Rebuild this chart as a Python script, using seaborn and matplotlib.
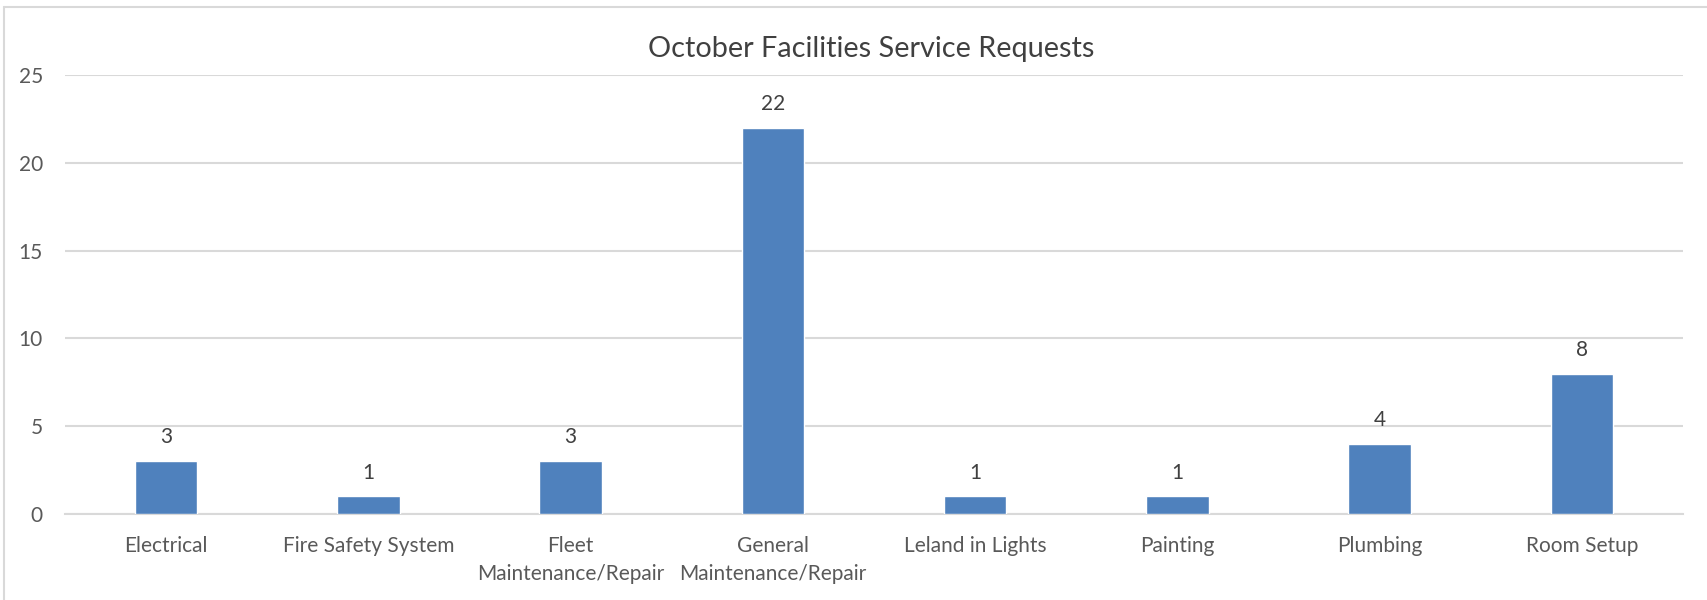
import matplotlib
matplotlib.use("Agg")
import matplotlib.pyplot as plt
import seaborn as sns
import pandas as pd
from matplotlib.lines import Line2D

categories = ["Electrical", "Fire Safety System", "Fleet\nMaintenance/Repair",
              "General\nMaintenance/Repair", "Leland in Lights", "Painting",
              "Plumbing", "Room Setup"]
requests = [3, 1, 3, 22, 1, 1, 4, 8]
y_ticks = [0, 5, 10, 15, 20, 25]
title = "October Facilities Service Requests"

df = pd.DataFrame({"category": categories, "requests": requests})

sns.set_theme(style="white")
plt.rcParams["font.family"] = ["Lato", "DejaVu Sans"]

W, H = 1707, 600
fig = plt.figure(figsize=(W / 100, H / 100), dpi=100)
ax = fig.add_axes([65 / W, 1 - 514 / H, (1683 - 65) / W, (514 - 75) / H])

sns.barplot(data=df, x="category", y="requests", color="#4F81BD",
            width=0.31, saturation=1, ax=ax, zorder=3)

ax.set_ylim(0, 25)
ax.set_yticks(y_ticks)
ax.yaxis.grid(True, color="#D9D9D9", linewidth=1.5, zorder=0)
ax.set_axisbelow(True)
for s in ["top", "right", "left"]:
    ax.spines[s].set_visible(False)
ax.spines["bottom"].set_color("#D9D9D9")
ax.spines["bottom"].set_linewidth(1.5)
ax.tick_params(axis="both", length=0, labelsize=15, colors="#595959")
ax.tick_params(axis="y", pad=16)
ax.tick_params(axis="x", pad=16)
for t in ax.get_xticklabels():
    t.set_linespacing(1.5)
ax.set_xlabel("")
ax.set_ylabel("")

ax.bar_label(ax.containers[0], padding=10, fontsize=15, color="#404040")

fig.text(871 / W, 1 - 49 / H, title, ha="center", va="center",
         fontsize=20.8, color="#404040")

# chart border
fig.add_artist(Line2D([4 / W, 1], [1 - 7 / H, 1 - 7 / H], color="#D9D9D9", lw=1.5))
fig.add_artist(Line2D([4 / W, 4 / W], [0, 1 - 7 / H], color="#D9D9D9", lw=1.5))

fig.savefig("out.png", dpi=100)
